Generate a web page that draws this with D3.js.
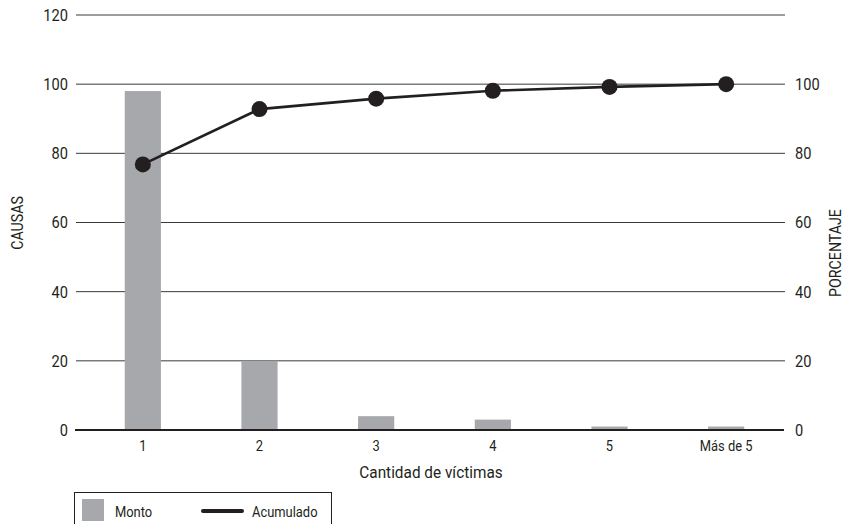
<!DOCTYPE html>
<html><head><meta charset="utf-8">
<script src="https://cdn.jsdelivr.net/npm/d3@7"></script>
<style>
body{margin:0;background:#fff;}
text{font-family:Roboto,"Liberation Sans",sans-serif;fill:#231f20;}
</style></head>
<body>
<svg id="chart" width="845" height="524"></svg>
<script>
const categories = ["1","2","3","4","5","Más de 5"];
const monto = [98, 20, 4, 3, 1, 1];
const acumulado = [76.8, 92.8, 95.8, 98.1, 99.2, 100];
const leftTicks = [0,20,40,60,80,100,120];
const rightTicks = [0,20,40,60,80,100];

const svg = d3.select("#chart");
const x = d3.scaleBand().domain(categories).range([84.5, 784.5]).paddingInner(0.69).paddingOuter(0.345);
const xc = d => x(d) + x.bandwidth()/2;
const y = d3.scaleLinear().domain([0,120]).range([430,15]);
const yR = d3.scaleLinear().domain([0,120]).range([430,15]);

// gridlines
svg.append("g").selectAll("line").data(leftTicks.filter(t=>t>0)).join("line")
  .attr("x1",76).attr("x2",785).attr("y1",d=>y(d)).attr("y2",d=>y(d))
  .attr("stroke","#3a3a3a").attr("stroke-width",1);

// left axis labels
const gl = svg.append("g").attr("transform","translate(76,0)")
  .call(d3.axisLeft(y).tickValues(leftTicks).tickSize(0).tickPadding(8));
gl.select(".domain").remove();
gl.selectAll("text").style("font-size","17px").attr("fill","#231f20");

// right axis labels
const gr = svg.append("g").attr("transform","translate(785,0)")
  .call(d3.axisRight(yR).tickValues(rightTicks).tickSize(0).tickPadding(10));
gr.select(".domain").remove();
gr.selectAll("text").style("font-size","17px").attr("fill","#231f20");

// bars
svg.append("g").selectAll("rect").data(monto).join("rect")
  .attr("x",(d,i)=>x(categories[i])).attr("width",x.bandwidth())
  .attr("y",d=>y(d)).attr("height",d=>y(0)-y(d))
  .attr("fill","#a7a8ab");

// x axis
const gx = svg.append("g").attr("transform","translate(0,430)")
  .call(d3.axisBottom(x).tickSize(0).tickPadding(10));
gx.select(".domain").remove();
gx.selectAll("text").style("font-size","15px").attr("fill","#231f20");
svg.append("line").attr("x1",75).attr("x2",784).attr("y1",430).attr("y2",430)
  .attr("stroke","#231f20").attr("stroke-width",2.2);

// line
const line = d3.line().x((d,i)=>xc(categories[i])).y(d=>yR(d));
svg.append("path").datum(acumulado).attr("d",line)
  .attr("fill","none").attr("stroke","#231f20").attr("stroke-width",2.7);
svg.append("g").selectAll("circle").data(acumulado).join("circle")
  .attr("cx",(d,i)=>xc(categories[i])).attr("cy",d=>yR(d)).attr("r",8)
  .attr("fill","#231f20");

// axis titles
svg.append("text").attr("transform","translate(23,223) rotate(-90)")
  .attr("text-anchor","middle").style("font-size","16.5px").text("CAUSAS");
svg.append("text").attr("transform","translate(841,253) rotate(-90)")
  .attr("text-anchor","middle").style("font-size","16.5px").text("PORCENTAJE");
svg.append("text").attr("class","xtitle").attr("x",431).attr("y",478).attr("text-anchor","middle")
  .style("font-size","16.5px").text("Cantidad de víctimas");

// legend
const lg = svg.append("g");
lg.append("rect").attr("x",74.5).attr("y",492.5).attr("width",257).attr("height",40)
  .attr("fill","#fff").attr("stroke","#231f20").attr("stroke-width",1);
lg.append("rect").attr("x",82).attr("y",499).attr("width",22).attr("height",22).attr("fill","#a7a8ab");
lg.append("text").attr("x",115).attr("y",517).style("font-size","15px").text("Monto");
lg.append("line").attr("x1",203).attr("x2",242).attr("y1",511).attr("y2",511)
  .attr("stroke","#231f20").attr("stroke-width",4).attr("stroke-linecap","round");
lg.append("text").attr("x",252).attr("y",517).style("font-size","15px").text("Acumulado");

// condense text horizontally to mimic a condensed face
svg.selectAll("text").each(function(){
  const k = this.getAttribute("class") === "xtitle" ? 0.93 : 0.86;
  const w = this.getComputedTextLength();
  this.setAttribute("textLength", (w*k).toFixed(2));
  this.setAttribute("lengthAdjust","spacingAndGlyphs");
});
</script>
</body></html>
